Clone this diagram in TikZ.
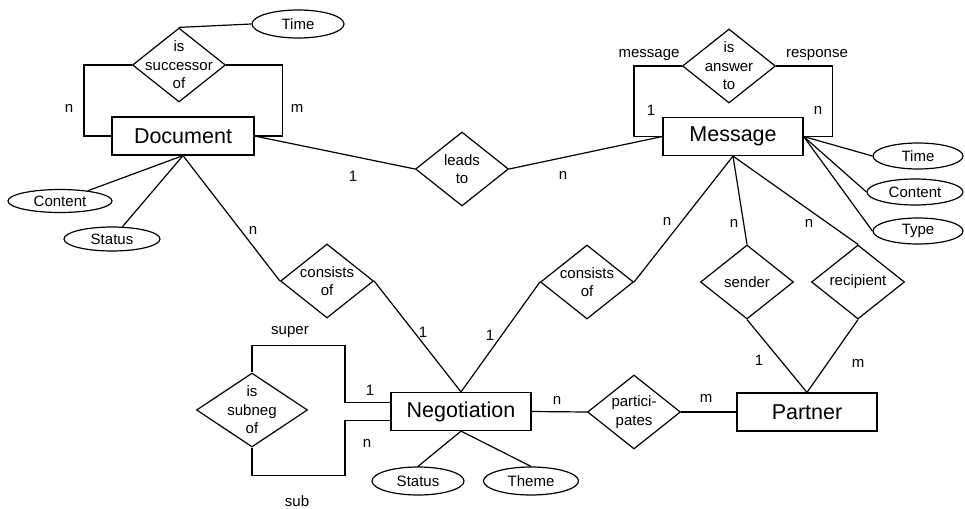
\documentclass[tikz,border=0pt]{standalone}
\usepackage{fontspec}
\setmainfont{Liberation Sans}
\usetikzlibrary{shapes.geometric, positioning}

\begin{document}
\begin{tikzpicture}[
    x=1pt, y=-1pt,
    entity/.style={
        rectangle, draw, line width=1.2pt, minimum width=140pt,
        minimum height=38pt, font=\fontsize{21.5}{24}\selectfont
    },
    relation/.style={
        diamond, draw, line width=1.2pt, minimum width=93pt,
        minimum height=74pt, inner sep=-12pt, align=center,
        font=\fontsize{15}{18.5}\selectfont
    },
    attrib/.style={
        ellipse, draw, line width=1.2pt, minimum width=92pt,
        minimum height=26pt, inner sep=1pt, font=\fontsize{15}{18}\selectfont
    },
    card/.style={font=\fontsize{15}{18}\selectfont, inner sep=0pt},
    link/.style={line width=1.2pt}
]
\useasboundingbox (0,0) rectangle (965,508);

%% Entities
\node (doc)  [entity, minimum width=142pt] at (183,136) {Document};
\node (msg)  [entity] at (733,136.5) {Message};
\node (neg)  [entity] at (461,411.5) {Negotiation};
\node (part) [entity] at (807,412)   {Partner};

%% Relationships
\node (succ)  [relation] at (179,65)  {is\\successor\\of};
\node (answ)  [relation] at (729,66)  {is\\answer\\to};
\node (leads) [relation] at (462,169) {leads\\to};
\node (cons1) [relation] at (327,281) {consists\\of};
\node (cons2) [relation] at (587,282) {consists\\of};
\node (send)  [relation] at (747,282) {sender};
\node (recv)  [relation] at (858,282) {recipient};
\node (joins) [relation] at (634,412) {partici-\\pates};
\node (subng) [relation, minimum width=111pt] at (252,410) {is\\subneg\\of};

%% Attributes
\node (dtime)  [attrib, minimum height=28pt] at (298,24) {Time};
\node (dcont)  [attrib, minimum width=104pt, minimum height=23pt] at (60,201) {Content};
\node (dstat)  [attrib, minimum width=96pt, minimum height=24pt] at (112,239) {Status};
\node (mtime)  [attrib, minimum width=90pt] at (918,156) {Time};
\node (mcont)  [attrib, minimum width=96pt] at (915,192) {Content};
\node (mtype)  [attrib, minimum width=90pt] at (918,231) {Type};
\node (nstat)  [attrib, minimum height=28pt] at (418,481) {Status};
\node (ntheme) [attrib, minimum width=95pt, minimum height=28pt] at (531,481) {Theme};

%% Cardinalities and roles
\node (succn)  [card] at (69,108)  {n};
\node (succm)  [card] at (297,108) {m};
\node (answr1) [card] at (649,55)  {message};
\node (answr2) [card] at (817,55)  {response};
\node (answ1)  [card] at (651,110) {1};
\node (answn)  [card] at (818,110) {n};
\node (leads1) [card] at (353,176) {1};
\node (leadsn) [card] at (563,175) {n};
\node (cons1n) [card] at (253,230) {n};
\node (cons11) [card] at (423,332) {1};
\node (cons21) [card] at (490,335) {1};
\node (cons2n) [card] at (667,221) {n};
\node (sendn)  [card] at (734,223) {n};
\node (recvn)  [card] at (809,223) {n};
\node (send1)  [card] at (759,360) {1};
\node (recvm)  [card] at (858,363) {m};
\node (joinsn) [card] at (557,400) {n};
\node (joinsm) [card] at (706,398) {m};
\node (subsup) [card] at (290,332) {super};
\node (subsub) [card] at (297,501) {sub};
\node (subng1) [card] at (370,390) {1};
\node (subngn) [card] at (367,443) {n};

%% Self relationships
\draw [link] (succ.west) -- ++(-48,0) |- (doc.west);
\draw [link] (succ.east) -- ++(56,0) |- (doc.east);
\draw [link] (answ.west) -- ++(-48,0) |- (msg.west);
\draw [link] (answ.east) -- ++(56,0) |- (msg.east);
\draw [link] (subng.north) |- ++(93,-27) |- ([yshift=9pt]neg.west);
\draw [link] (subng.south) |- ++(93,28) |- ([yshift=-9pt]neg.west);

%% Relationship lines
\draw [link] (doc.east)   -- (leads.west);
\draw [link] (leads.east) -- (msg.west);
\draw [link] (doc.south)  -- (cons1.west);
\draw [link] (cons1.east) -- (neg.north);
\draw [link] (neg.north)  -- (cons2.west);
\draw [link] (cons2.east) -- (msg.south);
\draw [link] (msg.south)  -- (send.north);
\draw [link] (msg.south)  -- (recv.north);
\draw [link] (send.south) -- (part.north);
\draw [link] (recv.south) -- (part.north);
\draw [link] (neg.east)   -- (joins.west);
\draw [link] (joins.east) -- (part.west);

%% Attribute lines
\draw [link] (succ.north) -- (dtime.west);
\draw [link] (doc.south)  -- (dcont);
\draw [link] (doc.south)  -- (dstat);
\draw [link] (msg.east)   -- (mtime.west);
\draw [link] (msg.east)   -- (mcont.west);
\draw [link] (msg.east)   -- (mtype.west);
\draw [link] (neg.south)  -- (nstat.north);
\draw [link] (neg.south)  -- (ntheme.north);

\end{tikzpicture}
\end{document}
